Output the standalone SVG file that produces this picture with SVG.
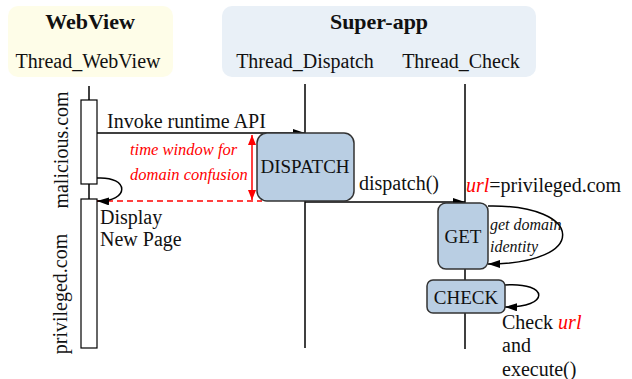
<svg xmlns="http://www.w3.org/2000/svg" width="632" height="379" viewBox="0 0 632 379">
<defs>
<style>
text{font-family:"Liberation Serif","Times New Roman",serif;fill:#111;}
.t{font-size:20px;}
.n{font-size:19px;}
.b{font-size:22px;font-weight:bold;}
.i{font-style:italic;}
.red{fill:#f00;}
.life{stroke:#000;stroke-width:1.5;fill:none;}
.act{fill:#fff;stroke:#000;stroke-width:1.2;}
.box{fill:#b9cee3;stroke:#333;stroke-width:1.5;}
.msg{stroke:#000;stroke-width:1.5;fill:none;}
</style>
<marker id="ah" viewBox="0 0 12 8" refX="12" refY="4" markerWidth="12" markerHeight="8" markerUnits="userSpaceOnUse" orient="auto">
<path d="M0,0 L12,4 L0,8 z" fill="#000"/>
</marker>
<marker id="rh" viewBox="0 0 10 8" refX="10" refY="4" markerWidth="10" markerHeight="8" markerUnits="userSpaceOnUse" orient="auto-start-reverse">
<path d="M0,0 L10,4 L0,8 z" fill="#f00"/>
</marker>
</defs>
<rect width="632" height="379" fill="#fff"/>
<g id="panel-webview">
<rect x="8" y="6" width="165" height="71" rx="10" fill="#fefde8"/>
<text class="b" x="90" y="29" text-anchor="middle">WebView</text>
<text class="t" x="88" y="68" text-anchor="middle">Thread_WebView</text>
</g>
<g id="panel-superapp">
<rect x="222" y="6" width="314" height="71" rx="10" fill="#e9f0f7"/>
<text class="b" x="379" y="29" text-anchor="middle">Super-app</text>
<text class="t" x="305" y="68" text-anchor="middle">Thread_Dispatch</text>
<text class="t" x="461" y="68" text-anchor="middle">Thread_Check</text>
</g>
<g id="lifelines">
<line class="life" x1="89" y1="86" x2="89" y2="348"/>
<line class="life" x1="305" y1="84" x2="305" y2="348"/>
<line class="life" x1="465" y1="84" x2="465" y2="349"/>
</g>
<g id="webview-act">
<rect class="act" x="81" y="100" width="16" height="84"/>
<rect class="act" x="81" y="199" width="16" height="149"/>
<text class="t" transform="translate(68,150) rotate(-90)" text-anchor="middle">malicious.com</text>
<text class="t" transform="translate(67,294) rotate(-90)" text-anchor="middle">privileged.com</text>
</g>
<g id="connectors">
<line class="msg" x1="97" y1="133" x2="305" y2="133" marker-end="url(#ah)"/>
<line x1="97" y1="201" x2="262" y2="201" stroke="#f00" stroke-width="1.5" stroke-dasharray="6,4"/>
<path class="msg" d="M97,178 C130,176 130,202 97,201" marker-end="url(#ah)"/>
<line x1="252" y1="135" x2="252" y2="200" stroke="#f00" stroke-width="1.5" marker-start="url(#rh)" marker-end="url(#rh)"/>
<line class="msg" x1="305" y1="202" x2="465" y2="202" marker-end="url(#ah)"/>
<path class="msg" d="M488,206 C585,204 590,264 488,264" marker-end="url(#ah)"/>
<path class="msg" d="M505,285 C550,282 550,308 505,307" marker-end="url(#ah)"/>
</g>
<g id="labels">
<text class="t" x="107" y="128">Invoke runtime API</text>
<text class="i red" x="130" y="155" font-size="16.5">time window for</text>
<text class="i red" x="130" y="180" font-size="16.5">domain confusion</text>
<text class="t" x="100" y="224">Display</text>
<text class="t" x="100" y="246">New Page</text>
<text class="t" x="359" y="190">dispatch()</text>
<text class="t" x="466" y="192"><tspan class="i red">url</tspan>=privileged.com</text>
<text class="i" x="490" y="230" font-size="16">get domain</text>
<text class="i" x="490" y="252" font-size="16">identity</text>
<text class="t" x="502" y="329">Check <tspan class="i red">url</tspan></text>
<text class="t" x="502" y="352">and</text>
<text class="t" x="502" y="376">execute()</text>
</g>
<g id="dispatch">
<rect class="box" x="257" y="133" width="97" height="68" rx="10"/>
<text class="n" x="305" y="173" text-anchor="middle">DISPATCH</text>
</g>
<g id="get">
<rect class="box" x="438" y="203" width="50" height="66" rx="8"/>
<text class="n" x="463" y="243" text-anchor="middle">GET</text>
</g>
<g id="check">
<rect class="box" x="427" y="280" width="78" height="33" rx="6"/>
<text class="n" x="466" y="304" text-anchor="middle">CHECK</text>
</g>
</svg>
